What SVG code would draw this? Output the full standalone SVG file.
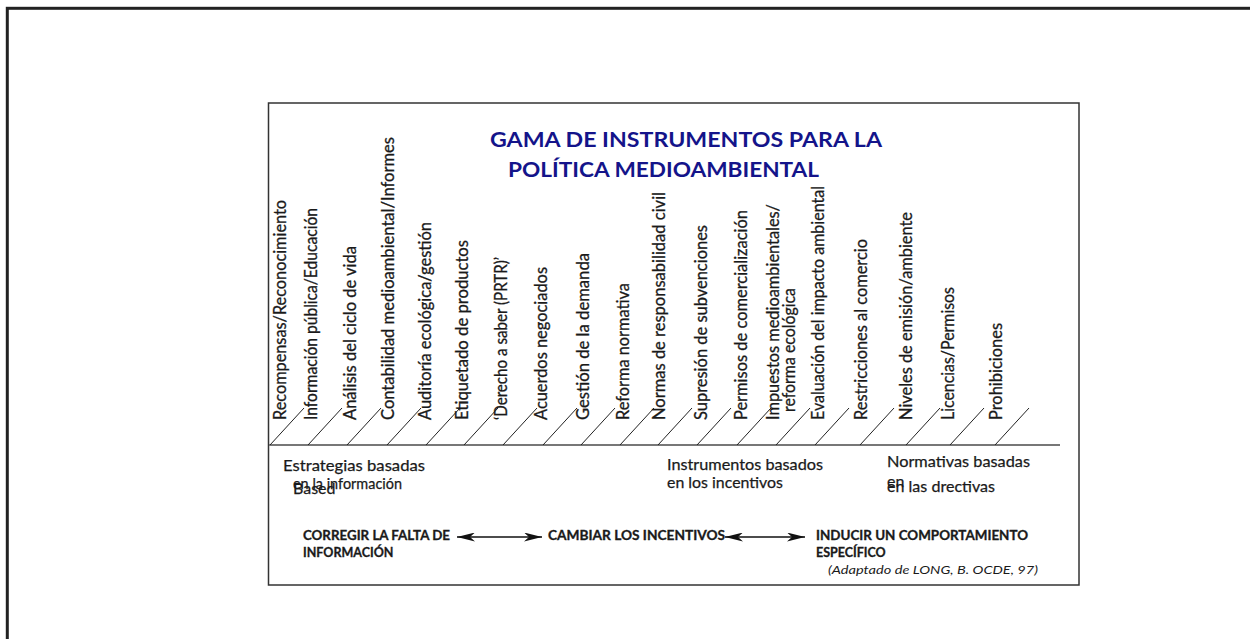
<svg xmlns="http://www.w3.org/2000/svg" width="1250" height="639" viewBox="0 0 1250 639">
<defs>
<style>
.lbl{font-family:Lato,"Liberation Sans",sans-serif;font-size:16.5px;fill:#1a1a1a;stroke:#1a1a1a;stroke-width:0.3}
.cat{font-family:Lato,"Liberation Sans",sans-serif;font-size:16px;fill:#1a1a1a;stroke:#1a1a1a;stroke-width:0.25}
.bold{font-family:Lato,"Liberation Sans",sans-serif;font-size:12.5px;font-weight:bold;fill:#1a1a1a;stroke:#1a1a1a;stroke-width:0.3}
.title{font-family:Lato,"Liberation Sans",sans-serif;font-size:21px;font-weight:bold;fill:#14148a}
.src{font-family:Lato,"Liberation Sans",sans-serif;font-size:12px;font-style:italic;fill:#1a1a1a}
.tick{stroke:#222;stroke-width:1}
.arr{stroke:#111;stroke-width:1.6;fill:none}
</style>
<marker id="ah" viewBox="0 0 18 9" refX="18" refY="4.5" markerWidth="18" markerHeight="9" markerUnits="userSpaceOnUse" orient="auto-start-reverse">
<path d="M0,0 L18,4.5 L0,9 L5,4.5 z" fill="#111"/>
</marker>
</defs>
<rect width="1250" height="639" fill="#fff"/>
<g id="frame">
<rect x="7.3" y="8.3" width="1262" height="660" fill="none" stroke="#222" stroke-width="3"/>
<rect x="268.5" y="103" width="810.5" height="482" fill="none" stroke="#333" stroke-width="1.5"/>
</g>
<g id="title">
<text class="title" x="490" y="146.5" textLength="392" lengthAdjust="spacingAndGlyphs">GAMA DE INSTRUMENTOS PARA LA</text>
<text class="title" x="508" y="176.5" textLength="311" lengthAdjust="spacingAndGlyphs">POLÍTICA MEDIOAMBIENTAL</text>
</g>
<g id="axis">
<line x1="269" y1="445" x2="1060" y2="445" stroke="#777" stroke-width="2"/>
<g class="tick">
<line x1="270" y1="445" x2="304" y2="408"/>
<line x1="308" y1="445" x2="342" y2="408"/>
<line x1="347" y1="445" x2="381" y2="408"/>
<line x1="387" y1="445" x2="421" y2="408"/>
<line x1="426" y1="445" x2="460" y2="408"/>
<line x1="464" y1="445" x2="498" y2="408"/>
<line x1="503" y1="445" x2="537" y2="408"/>
<line x1="543" y1="445" x2="577" y2="408"/>
<line x1="581" y1="445" x2="615" y2="408"/>
<line x1="620" y1="445" x2="654" y2="408"/>
<line x1="658" y1="445" x2="692" y2="408"/>
<line x1="697" y1="445" x2="731" y2="408"/>
<line x1="737" y1="445" x2="771" y2="408"/>
<line x1="776" y1="445" x2="810" y2="408"/>
<line x1="815" y1="445" x2="849" y2="408"/>
<line x1="860" y1="445" x2="894" y2="408"/>
<line x1="906" y1="445" x2="940" y2="408"/>
<line x1="950" y1="445" x2="984" y2="408"/>
<line x1="995" y1="445" x2="1029" y2="408"/>
</g>
</g>
<g id="instrument-labels">
<text class="lbl" transform="translate(286,420) rotate(-90)" textLength="220" lengthAdjust="spacingAndGlyphs">Recompensas/Reconocimiento</text>
<text class="lbl" transform="translate(317,420) rotate(-90)" textLength="212" lengthAdjust="spacingAndGlyphs">Información pública/Educación</text>
<text class="lbl" transform="translate(356,420) rotate(-90)" textLength="174" lengthAdjust="spacingAndGlyphs">Análisis del ciclo de vida</text>
<text class="lbl" transform="translate(394,420) rotate(-90)" textLength="283" lengthAdjust="spacingAndGlyphs">Contabilidad medioambiental/Informes</text>
<text class="lbl" transform="translate(431,420) rotate(-90)" textLength="198" lengthAdjust="spacingAndGlyphs">Auditoría ecológica/gestión</text>
<text class="lbl" transform="translate(468,420) rotate(-90)" textLength="180" lengthAdjust="spacingAndGlyphs">Etiquetado de productos</text>
<text class="lbl" transform="translate(507,420) rotate(-90)" textLength="163" lengthAdjust="spacingAndGlyphs">‘Derecho a saber (PRTR)’</text>
<text class="lbl" transform="translate(547,420) rotate(-90)" textLength="153" lengthAdjust="spacingAndGlyphs">Acuerdos negociados</text>
<text class="lbl" transform="translate(589,420) rotate(-90)" textLength="167" lengthAdjust="spacingAndGlyphs">Gestión de la demanda</text>
<text class="lbl" transform="translate(629,420) rotate(-90)" textLength="137" lengthAdjust="spacingAndGlyphs">Reforma normativa</text>
<text class="lbl" transform="translate(665,420) rotate(-90)" textLength="228" lengthAdjust="spacingAndGlyphs">Normas de responsabilidad civil</text>
<text class="lbl" transform="translate(707,420) rotate(-90)" textLength="195" lengthAdjust="spacingAndGlyphs">Supresión de subvenciones</text>
<text class="lbl" transform="translate(747,420) rotate(-90)" textLength="210" lengthAdjust="spacingAndGlyphs">Permisos de comercialización</text>
<text class="lbl" transform="translate(779,420) rotate(-90)" textLength="216" lengthAdjust="spacingAndGlyphs">Impuestos medioambientales/</text>
<text class="lbl" transform="translate(795,412) rotate(-90)" textLength="124" lengthAdjust="spacingAndGlyphs">reforma ecológica</text>
<text class="lbl" transform="translate(824,420) rotate(-90)" textLength="234" lengthAdjust="spacingAndGlyphs">Evaluación del impacto ambiental</text>
<text class="lbl" transform="translate(867,420) rotate(-90)" textLength="181" lengthAdjust="spacingAndGlyphs">Restricciones al comercio</text>
<text class="lbl" transform="translate(912,420) rotate(-90)" textLength="208" lengthAdjust="spacingAndGlyphs">Niveles de emisión/ambiente</text>
<text class="lbl" transform="translate(954,420) rotate(-90)" textLength="133" lengthAdjust="spacingAndGlyphs">Licencias/Permisos</text>
<text class="lbl" transform="translate(1002,420) rotate(-90)" textLength="97" lengthAdjust="spacingAndGlyphs">Prohibiciones</text>
</g>
<g id="category-info">
<text class="cat" x="283" y="471" textLength="142" lengthAdjust="spacingAndGlyphs">Estrategias basadas</text>
<text class="cat" x="293" y="489" textLength="109" lengthAdjust="spacingAndGlyphs">en  la información</text>
<text class="cat" x="293" y="494">Based</text>
</g>
<g id="category-incentives">
<text class="cat" x="667" y="470" textLength="156" lengthAdjust="spacingAndGlyphs">Instrumentos basados</text>
<text class="cat" x="667" y="488" textLength="116" lengthAdjust="spacingAndGlyphs">en los incentivos</text>
</g>
<g id="category-directives">
<text class="cat" x="887" y="467" textLength="143" lengthAdjust="spacingAndGlyphs">Normativas basadas</text>
<text class="cat" x="887" y="487">en</text>
<text class="cat" x="887" y="492" textLength="108" lengthAdjust="spacingAndGlyphs">en las drectivas</text>
</g>
<g id="goal-info">
<text class="bold" x="303" y="540" textLength="147" lengthAdjust="spacingAndGlyphs">CORREGIR LA FALTA DE</text>
<text class="bold" x="303" y="557">INFORMACIÓN</text>
</g>
<g id="goal-incentives">
<text class="bold" x="548" y="540" textLength="177" lengthAdjust="spacingAndGlyphs">CAMBIAR LOS INCENTIVOS</text>
</g>
<g id="goal-behaviour">
<text class="bold" x="816" y="540" textLength="212" lengthAdjust="spacingAndGlyphs">INDUCIR UN COMPORTAMIENTO</text>
<text class="bold" x="816" y="557">ESPECÍFICO</text>
</g>
<g id="connectors">
<line class="arr" x1="457" y1="537" x2="542" y2="537" marker-start="url(#ah)" marker-end="url(#ah)"/>
<line class="arr" x1="725" y1="537" x2="805" y2="537" marker-start="url(#ah)" marker-end="url(#ah)"/>
</g>
<g id="source">
<text class="src" x="828" y="574" textLength="210" lengthAdjust="spacingAndGlyphs">(Adaptado de LONG, B. OCDE, 97)</text>
</g>
</svg>
